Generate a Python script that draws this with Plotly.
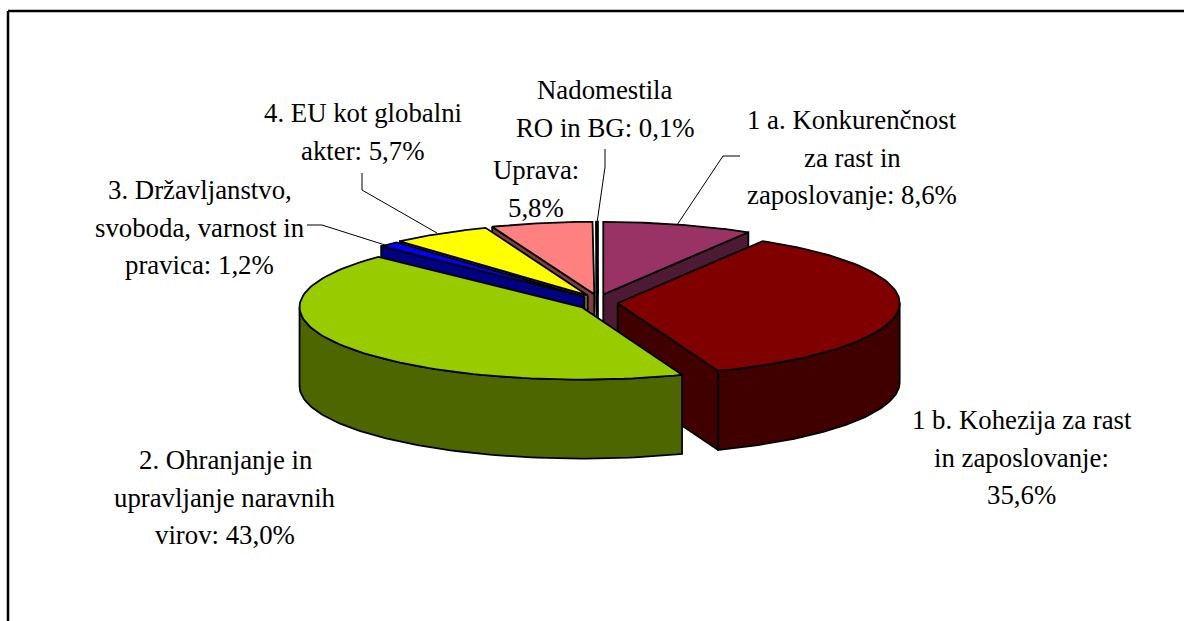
import numpy as np
import plotly.graph_objects as go

# ---- data ----
categories = ["1 a. Konkurenčnost za rast in zaposlovanje", "1 b. Kohezija za rast in zaposlovanje",
              "2. Ohranjanje in upravljanje naravnih virov", "3. Državljanstvo, svoboda, varnost in pravica",
              "4. EU kot globalni akter", "Uprava", "Nadomestila RO in BG"]
values = [8.6, 35.6, 43.0, 1.2, 5.7, 5.8, 0.1]
top_colors = ["#993366", "#800000", "#99CC00", "#0000FF", "#FFFF00", "#FF8080", "#FFFFFF"]
side_colors = ["#4D1A33", "#400000", "#4D6600", "#000080", "#808000", "#804040", "#808080"]
draw_order = [0, 5, 6, 4, 3, 1, 2]

label_lines = [["1 a. Konkurenčnost", "za rast in", "zaposlovanje: 8,6%"],
               ["1 b. Kohezija za rast", "in zaposlovanje:", "35,6%"],
               ["2. Ohranjanje in", "upravljanje naravnih", "virov: 43,0%"],
               ["3. Državljanstvo,", "svoboda, varnost in", "pravica: 1,2%"],
               ["4. EU kot globalni", "akter: 5,7%"],
               ["Uprava:", "5,8%"],
               ["Nadomestila", "RO in BG: 0,1%"]]
label_cx = [852, 1021.5, 225, 199.5, 363, 536, 605]
label_y0 = [120, 420, 460, 190, 113, 170, 90]
label_dy = 37.5

leader_x = [[677, 723, 740], [437, 362, 362], [385, 322, 307], [597, 605, 605]]
leader_y = [[225, 156, 156], [233, 190, 173], [245, 225, 225], [223, 167, 149]]

# ---- pie geometry ----
CX, CY, RX, RY, DEPTH, EXPLODE_X, EXPLODE_Y = 598, 302.5, 282, 72.5, 79, 0.07, 0.115
FONT = "Liberation Serif"
edges = np.cumsum([0] + values) / sum(values) * 2 * np.pi


def arc(cx, cy, a, b, n=90):
    t = np.linspace(a, b, n)
    return cx + RX * np.sin(t), cy - RY * np.cos(t)


def poly(fig, x, y, color, lw=1.8):
    fig.add_trace(go.Scatter(x=list(x) + [x[0]], y=list(y) + [y[0]], mode="lines", fill="toself",
                             fillcolor=color, line=dict(color="black", width=lw),
                             hoverinfo="skip", showlegend=False))


fig = go.Figure()
for i in draw_order:
    a, b = edges[i], edges[i + 1]
    mid = (a + b) / 2
    cx = CX + EXPLODE_X * RX * np.sin(mid)
    cy = CY - EXPLODE_Y * RY * np.cos(mid)
    side, top = side_colors[i], top_colors[i]
    # radial walls: only those that face the viewer
    for e, visible in ((a, np.sin(a) < 0), (b, np.sin(b) > 0)):
        if visible:
            rx_, ry_ = arc(cx, cy, e, e, 1)
            poly(fig, [cx, rx_[0], rx_[0], cx], [cy, ry_[0], ry_[0] + DEPTH, cy + DEPTH], side)
    # outer wall (front half only)
    wa, wb = max(a, np.pi / 2), min(b, 3 * np.pi / 2)
    if wb > wa:
        ax, ay = arc(cx, cy, wa, wb)
        poly(fig, np.r_[ax, ax[::-1]], np.r_[ay, ay[::-1] + DEPTH], side)
    # top face
    ax, ay = arc(cx, cy, a, b)
    poly(fig, np.r_[cx, ax], np.r_[cy, ay], top)

for lx, ly in zip(leader_x, leader_y):
    fig.add_trace(go.Scatter(x=lx, y=ly, mode="lines", line=dict(color="black", width=1),
                             hoverinfo="skip", showlegend=False))

for lines, lcx, y0 in zip(label_lines, label_cx, label_y0):
    for k, s in enumerate(lines):
        fig.add_annotation(x=lcx, y=y0 + k * label_dy, text=s, showarrow=False, xref="x", yref="y",
                           xanchor="center", yanchor="middle",
                           font=dict(family=FONT, size=26.8, color="black"))

# chart frame: top and left rules
fig.add_shape(type="line", x0=8, y0=11, x1=1184, y1=11, line=dict(color="black", width=2.5))
fig.add_shape(type="line", x0=8, y0=11, x1=8, y1=621, line=dict(color="black", width=2.5))

fig.update_layout(width=1184, height=621, margin=dict(l=0, r=0, t=0, b=0),
                  paper_bgcolor="white", plot_bgcolor="white",
                  xaxis=dict(range=[0, 1184], visible=False, fixedrange=True),
                  yaxis=dict(range=[621, 0], visible=False, fixedrange=True))
fig.write_html("out.html", config={"displayModeBar": False},
               post_script="document.body.style.margin='0';document.body.style.overflow='hidden';")
